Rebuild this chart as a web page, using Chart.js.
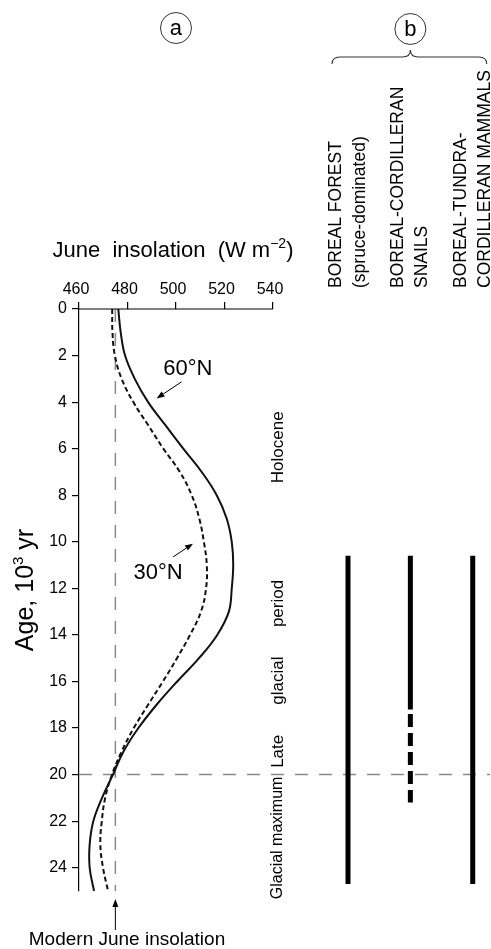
<!DOCTYPE html>
<html>
<head>
<meta charset="utf-8">
<title>June insolation and boreal biota</title>
<script src="https://cdn.jsdelivr.net/npm/chart.js@4.4.1/dist/chart.umd.min.js"></script>
<style>
  html, body { margin:0; padding:0; background:#fff; }
  #chart { display:block; }
</style>
</head>
<body>
<canvas id="chart" width="491" height="949"></canvas>
<script>
// ages in 10^3 yr, insolation in W m-2
const ages = [0,1,2,3,4,5,6,7,8,9,10,11,12,13,14,15,16,17,18,19,20,21,22,23,24,25];
const insolation60N = [476.2,477.2,479,483,488.5,495.7,503,510.6,516.8,520.9,523,523.6,523,521.8,517,509.5,500.5,492,484.5,478.4,474,469.5,465.9,464.4,464.4,466.2];
const insolation30N = [473.7,473.8,474.8,477.6,482.4,488.6,494.8,501.6,506.5,509.6,511.5,512.7,512.4,510.3,505.8,500.4,494.6,488.5,482.6,477.6,473.6,470.8,469.4,468.8,469.9,472];

const insolationTicks = [460,480,500,520,540];
const ageTicks = [0,2,4,6,8,10,12,14,16,18,20,22,24];

const modernInsolation = 475;
const glacialMaximumAge = 20;

// panel b: ranges of each biota (ages)
const biotaColumns = [1,2,3];
const biotaNames = [
  ["BOREAL FOREST","(spruce-dominated)"],
  ["BOREAL-CORDILLERAN","SNAILS"],
  ["BOREAL-TUNDRA-","CORDILLERAN MAMMALS"]
];
const biotaStart = [10.6,10.6,10.6];
const biotaEnd = [24.7,17.2,24.7];
const snailUncertainStart = 17.4;
const snailUncertainEnd = 21.2;

const FONT = "'Liberation Sans', Arial, Helvetica, sans-serif";
const X_MAX = 629.5;   // lets the chart area run on to the right edge for panel b

function pts(xs, ys){
  return xs.map((v,i) => ({ x:v, y:ys[i] }));
}

const datasets = [
  {
    label:"60°N",
    data:pts(insolation60N, ages),
    borderColor:"#111",
    borderWidth:2,
    tension:0.4,
    pointRadius:0
  },
  {
    label:"30°N",
    data:pts(insolation30N, ages),
    borderColor:"#111",
    borderWidth:2,
    borderDash:[5,3],
    tension:0.4,
    pointRadius:0
  }
];

biotaColumns.forEach((col,i) => {
  datasets.push({
    label:biotaNames[i].join(" "),
    xAxisID:"xb",
    data:[{ x:col, y:biotaStart[i] }, { x:col, y:biotaEnd[i] }],
    borderColor:"#000",
    borderWidth:5,
    borderCapStyle:"butt",
    pointRadius:0
  });
});

datasets.push({
  label:"snails (uncertain)",
  xAxisID:"xb",
  data:[{ x:biotaColumns[1], y:snailUncertainStart }, { x:biotaColumns[1], y:snailUncertainEnd }],
  borderColor:"#000",
  borderWidth:5,
  borderDash:[13,6],
  borderCapStyle:"butt",
  pointRadius:0
});

datasets.push({
  label:"Modern June insolation",
  data:[{ x:modernInsolation, y:0 }, { x:modernInsolation, y:25 }],
  borderColor:"#8a8a8a",
  borderWidth:1.5,
  borderDash:[13,11],
  pointRadius:0
});

datasets.push({
  label:"Glacial maximum",
  data:[{ x:460, y:glacialMaximumAge }, { x:X_MAX, y:glacialMaximumAge }],
  borderColor:"#8a8a8a",
  borderWidth:1.5,
  borderDash:[13,11],
  pointRadius:0
});

function drawRuns(ctx, runs, cx, baseY){
  let total = 0;
  runs.forEach(r => {
    ctx.font = r.font;
    r.w = ctx.measureText(r.text).width;
    total += r.w;
  });
  let pos = cx - total / 2;
  ctx.textAlign = "left";
  ctx.textBaseline = "alphabetic";
  runs.forEach(r => {
    ctx.font = r.font;
    ctx.fillText(r.text, pos, baseY + (r.dy || 0));
    pos += r.w;
  });
}

function drawArrow(ctx, x1, y1, x2, y2){
  const ang = Math.atan2(y2 - y1, x2 - x1);
  const len = 8, half = 3;
  ctx.beginPath();
  ctx.moveTo(x1, y1);
  ctx.lineTo(x2 - Math.cos(ang) * len, y2 - Math.sin(ang) * len);
  ctx.stroke();
  ctx.beginPath();
  ctx.moveTo(x2, y2);
  ctx.lineTo(x2 - Math.cos(ang) * len - Math.sin(ang) * half, y2 - Math.sin(ang) * len + Math.cos(ang) * half);
  ctx.lineTo(x2 - Math.cos(ang) * len + Math.sin(ang) * half, y2 - Math.sin(ang) * len - Math.cos(ang) * half);
  ctx.closePath();
  ctx.fill();
}

function circledLetter(ctx, letter, cx, cy){
  ctx.beginPath();
  ctx.lineWidth = 1;
  ctx.strokeStyle = "#333";
  ctx.arc(cx, cy, 15.5, 0, Math.PI * 2);
  ctx.stroke();
  ctx.font = "22px " + FONT;
  ctx.textAlign = "center";
  ctx.textBaseline = "middle";
  ctx.fillText(letter, cx, cy + 1);
}

function rotatedText(ctx, text, x, y, align, font){
  ctx.save();
  ctx.translate(x, y);
  ctx.rotate(-Math.PI / 2);
  ctx.font = font;
  ctx.textAlign = align;
  ctx.textBaseline = "middle";
  ctx.fillText(text, 0, 0);
  ctx.restore();
}

const figureText = {
  id:"figureText",
  afterDraw(chart){
    const ctx = chart.ctx;
    const x = chart.scales.x, y = chart.scales.y, xb = chart.scales.xb;
    const top = chart.chartArea.top;
    const x0 = x.getPixelForValue(insolationTicks[0]);
    const x1 = x.getPixelForValue(insolationTicks[insolationTicks.length - 1]);

    ctx.save();
    ctx.fillStyle = "#000";
    ctx.strokeStyle = "#000";

    // top axis line, only over the insolation range
    ctx.lineWidth = 1.2;
    ctx.beginPath();
    ctx.moveTo(x0, top);
    ctx.lineTo(x1, top);
    ctx.stroke();

    // axis titles
    drawRuns(ctx, [
      { text:"June  insolation  (W m", font:"22px " + FONT },
      { text:"−2", font:"14px " + FONT, dy:-9 },
      { text:")", font:"22px " + FONT }
    ], (x0 + x1) / 2 - 3, 257);

    ctx.save();
    ctx.translate(33, 590);
    ctx.rotate(-Math.PI / 2);
    drawRuns(ctx, [
      { text:"Age, 10", font:"25px " + FONT },
      { text:"3", font:"15px " + FONT, dy:-10 },
      { text:" yr", font:"25px " + FONT }
    ], 0, 0);
    ctx.restore();

    // curve labels with arrows
    ctx.font = "22px " + FONT;
    ctx.textAlign = "center";
    ctx.textBaseline = "middle";
    ctx.fillText("60°N", x.getPixelForValue(504.9), y.getPixelForValue(2.58));
    ctx.fillText("30°N", x.getPixelForValue(492.6), y.getPixelForValue(11.35));
    ctx.lineWidth = 1;
    drawArrow(ctx, x.getPixelForValue(502.3), y.getPixelForValue(3.13), x.getPixelForValue(492.0), y.getPixelForValue(3.84));
    drawArrow(ctx, x.getPixelForValue(498.8), y.getPixelForValue(10.65), x.getPixelForValue(507.0), y.getPixelForValue(10.08));

    // modern insolation note
    const mx = x.getPixelForValue(modernInsolation);
    drawArrow(ctx, mx, 930, mx, 899);
    ctx.font = "19px " + FONT;
    ctx.textAlign = "center";
    ctx.textBaseline = "middle";
    ctx.fillText("Modern June insolation", 127, 940);

    // periods
    const pf = "17px " + FONT;
    rotatedText(ctx, "Holocene", 278, y.getPixelForValue(5.94), "center", pf);
    rotatedText(ctx, "period", 278, y.getPixelForValue(12.65), "center", pf);
    rotatedText(ctx, "glacial", 278, y.getPixelForValue(15.96), "center", pf);
    rotatedText(ctx, "Late", 278, y.getPixelForValue(19.0), "center", pf);
    rotatedText(ctx, "Glacial maximum", 278, y.getPixelForValue(22.72), "center", "16px " + FONT);

    // panel labels
    circledLetter(ctx, "a", (x0 + x1) / 2, 28);
    circledLetter(ctx, "b", xb.getPixelForValue(biotaColumns[1]), 29);

    // brace over panel b
    const bl = xb.getPixelForValue(biotaColumns[0]) - 16;
    const br = xb.getPixelForValue(biotaColumns[2]) + 14;
    const bm = xb.getPixelForValue(biotaColumns[1]);
    ctx.lineWidth = 1.1;
    ctx.strokeStyle = "#333";
    ctx.beginPath();
    ctx.moveTo(bl, 64);
    ctx.quadraticCurveTo(bl, 57, bl + 8, 57);
    ctx.lineTo(bm - 8, 57);
    ctx.quadraticCurveTo(bm, 57, bm, 50);
    ctx.quadraticCurveTo(bm, 57, bm + 8, 57);
    ctx.lineTo(br - 8, 57);
    ctx.quadraticCurveTo(br, 57, br, 64);
    ctx.stroke();

    // column headings
    ctx.fillStyle = "#000";
    biotaColumns.forEach((col,i) => {
      const cx = xb.getPixelForValue(col);
      rotatedText(ctx, biotaNames[i][0], cx - 12, 288, "left", "17.5px " + FONT);
      rotatedText(ctx, biotaNames[i][1], cx + 12, 288, "left", "17.5px " + FONT);
    });

    ctx.restore();
  }
};

new Chart(document.getElementById("chart"), {
  type:"line",
  data:{ datasets },
  options:{
    responsive:false,
    animation:false,
    events:[],
    layout:{ padding:{ top:0, left:0, right:1, bottom:58 } },
    font:{ family:FONT },
    plugins:{
      legend:{ display:false },
      tooltip:{ enabled:false }
    },
    scales:{
      x:{
        type:"linear",
        position:"top",
        min:460,
        max:X_MAX,
        afterBuildTicks:s => { s.ticks = insolationTicks.map(v => ({ value:v })); },
        afterFit:s => { s.height = 309; },
        border:{ display:false },
        grid:{ drawOnChartArea:false, drawTicks:true, tickLength:7, color:"#000", lineWidth:1.2 },
        ticks:{ color:"#000", font:{ family:FONT, size:16 }, padding:3, labelOffset:-3, maxRotation:0, autoSkip:false }
      },
      xb:{
        type:"linear",
        display:false,
        min:-3.314,
        max:3.277
      },
      y:{
        type:"linear",
        position:"left",
        reverse:true,
        min:0,
        max:25,
        afterBuildTicks:s => { s.ticks = ageTicks.map(v => ({ value:v })); },
        afterFit:s => { s.width = 79; },
        border:{ display:true, color:"#000", width:1.2 },
        grid:{ drawOnChartArea:false, drawTicks:true, tickLength:7, color:"#000", lineWidth:1.2 },
        ticks:{ color:"#000", font:{ family:FONT, size:16 }, padding:5, autoSkip:false }
      }
    }
  },
  plugins:[figureText]
});
</script>
</body>
</html>
